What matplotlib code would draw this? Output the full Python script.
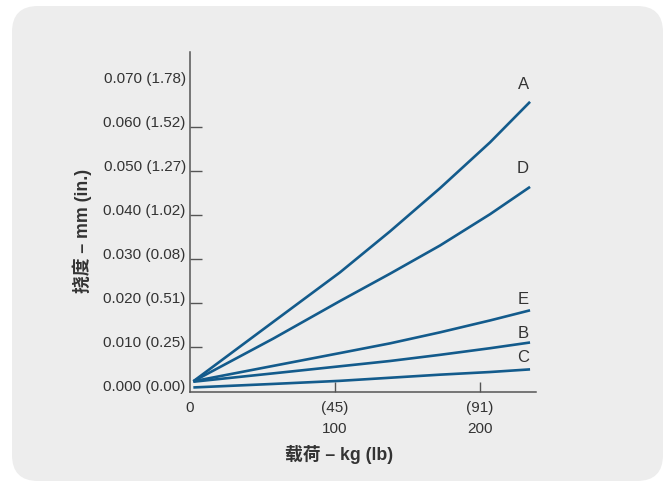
import matplotlib
matplotlib.use("Agg")
import matplotlib.pyplot as plt
from matplotlib.patches import FancyBboxPatch
from matplotlib.transforms import ScaledTranslation

plt.rcParams['font.family'] = ['Liberation Sans', 'Noto Sans CJK SC', 'DejaVu Sans']

# Load (lb) at which deflection was sampled
load_lb = [2.3, 57.5, 103.4, 137.9, 172.4, 206.9, 234.5]

# Deflection curves (mm scale as labelled on the axis)
defl_A = [0.0023, 0.0158, 0.0270, 0.0363, 0.0461, 0.0565, 0.0657]
defl_D = [0.0023, 0.0120, 0.0205, 0.0267, 0.0331, 0.0402, 0.0464]
defl_E = [0.0023, 0.0058, 0.0087, 0.0109, 0.0134, 0.0161, 0.0184]
defl_B = [0.0022, 0.0041, 0.0057, 0.0069, 0.0083, 0.0098, 0.0111]
defl_C = [0.0009, 0.0017, 0.0024, 0.0031, 0.0038, 0.0044, 0.0050]

series = [("A", defl_A), ("D", defl_D), ("E", defl_E), ("B", defl_B), ("C", defl_C)]
label_y = {"A": 0.0696, "D": 0.0506, "E": 0.0209, "B": 0.0132, "C": 0.0076}
label_x = 229.7

y_ticks = [0.0, 0.01, 0.02, 0.03, 0.04, 0.05, 0.06, 0.07]
y_tick_labels = ["0.000 (0.00)", "0.010 (0.25)", "0.020 (0.51)", "0.030 (0.08)",
                 "0.040 (1.02)", "0.050 (1.27)", "0.060 (1.52)", "0.070 (1.78)"]
x_ticks = [0, 100, 200]
x_tick_labels_kg = ["0", "(45)", "(91)"]
x_ticks_lb = [100, 200]
x_tick_labels_lb = ["100", "200"]

LINE = "#135b8c"
TEXT = "#333333"
AXIS = "#555555"

fig = plt.figure(figsize=(6.64, 4.82), dpi=100)
fig.patch.set_facecolor("white")

# rounded grey panel behind the chart (pixel coordinates)
panel = FancyBboxPatch((12, 1), 651, 475,
                       boxstyle="round,pad=0,rounding_size=26",
                       transform=None, facecolor="#ededed", edgecolor="none",
                       zorder=-10)
fig.patches.append(panel)

ax = fig.add_axes([190 / 664, (482 - 392.3) / 482, 346 / 664, (392.3 - 52) / 482])
ax.set_facecolor("none")
ax.set_zorder(1)

for name, vals in series:
    ax.plot(load_lb, vals, color=LINE, lw=1.9, solid_capstyle="butt",
            solid_joinstyle="round")
    ax.text(label_x, label_y[name], name, ha="center", va="center",
            fontsize=12, color=TEXT)

ax.set_xlim(0, 238.6)
ax.set_ylim(-0.0002, 0.0770)

for s in ("top", "right"):
    ax.spines[s].set_visible(False)
for s in ("left", "bottom"):
    ax.spines[s].set_color(AXIS)
    ax.spines[s].set_linewidth(1.1)

ax.set_yticks(y_ticks)
ax.set_yticklabels(y_tick_labels)
ax.set_xticks(x_ticks)
ax.set_xticklabels(x_tick_labels_kg)
# second row of x labels (lb) on minor ticks at the same positions
ax.xaxis.remove_overlapping_locs = False
ax.set_xticks(x_ticks_lb, minor=True)
ax.set_xticklabels(x_tick_labels_lb, minor=True)

ax.tick_params(axis="y", direction="in", length=8.6, width=1.0, color=AXIS,
               pad=3, labelsize=11, labelcolor=TEXT)
ax.tick_params(axis="x", which="major", direction="in", length=7, width=1.0,
               color=AXIS, pad=6.5, labelsize=11, labelcolor=TEXT)
ax.tick_params(axis="x", which="minor", direction="in", length=0,
               pad=21.3, labelsize=11, labelcolor=TEXT)

# no tick mark for the zero and top labels
yt = ax.yaxis.get_major_ticks()
yt[0].tick1line.set_visible(False)
yt[-1].tick1line.set_visible(False)
ax.xaxis.get_major_ticks()[0].tick1line.set_visible(False)

# y labels sit slightly above their tick marks
shift = ScaledTranslation(0, 5.5 / 100, fig.dpi_scale_trans)
for lbl in ax.get_yticklabels():
    lbl.set_transform(lbl.get_transform() + shift)

fig.text(82 / 664, 1 - 231 / 482, "挠度 – mm (in.)", rotation=90,
         ha="center", va="center", fontsize=12.8, fontweight="bold", color=TEXT)
fig.text(339 / 664, 1 - 454 / 482, "载荷 – kg (lb)",
         ha="center", va="center", fontsize=12.8, fontweight="bold", color=TEXT)

fig.savefig("out.png", dpi=100)
